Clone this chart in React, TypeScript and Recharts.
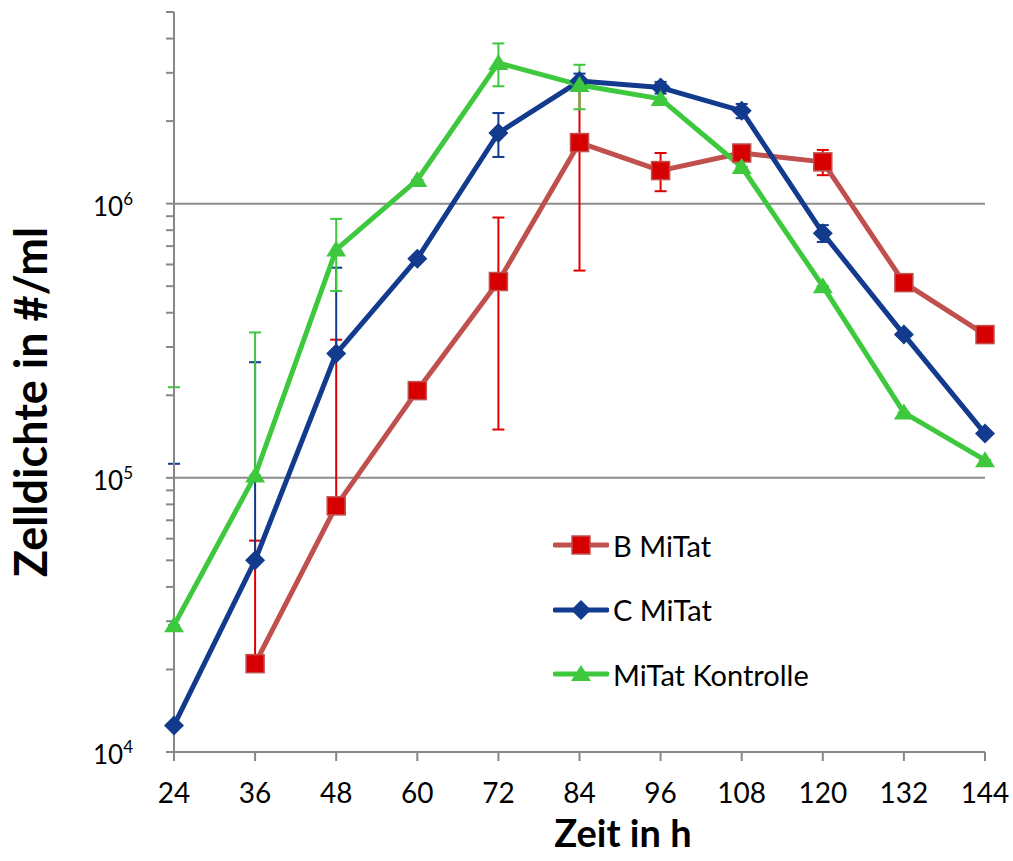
import { LineChart, Line, XAxis, YAxis, ErrorBar, CartesianGrid, Legend } from "recharts"

// sampling times (h)
const hours = [24, 36, 48, 60, 72, 84, 96, 108, 120, 132, 144]

// cell density (#/ml) and standard deviation
const bMitat = [null, 2.1e4, 7.9e4, 2.08e5, 5.2e5, 1.67e6, 1.32e6, 1.53e6, 1.42e6, 5.15e5, 3.33e5]
const bMitatSd = [null, 3.8e4, 2.4e5, 0, 3.7e5, 1.1e6, 2.1e5, 5e4, 1.5e5, 0, 0]

const cMitat = [1.25e4, 5.0e4, 2.84e5, 6.3e5, 1.81e6, 2.8e6, 2.65e6, 2.18e6, 7.8e5, 3.33e5, 1.45e5]
const cMitatSd = [1.0e5, 2.14e5, 3.0e5, 0, 3.3e5, 1.8e5, 1.3e5, 1.3e5, 5.5e4, 0, 0]

const kontrolle = [2.9e4, 1.02e5, 6.8e5, 1.22e6, 3.26e6, 2.71e6, 2.41e6, 1.36e6, 5.0e5, 1.73e5, 1.16e5]
const kontrolleSd = [1.85e5, 2.37e5, 2.0e5, 0, 5.8e5, 5.0e5, 0, 0, 0, 0, 0]

const seriesNames = ["B MiTat", "C MiTat", "MiTat Kontrolle"]

const yTicks = [
  1e4, 2e4, 3e4, 4e4, 5e4, 6e4, 7e4, 8e4, 9e4,
  1e5, 2e5, 3e5, 4e5, 5e5, 6e5, 7e5, 8e5, 9e5,
  1e6, 2e6, 3e6, 4e6, 5e6,
]
const majorTicks = [1e4, 1e5, 1e6]
const gridValues = [1e5, 1e6]

const FONT = "Lato, Carlito, Calibri, sans-serif"
const AXIS = "#878787"
const RED_LINE = "#C0504D"
const RED_FILL = "#D60000"
const RED_ERR = "#E00000"
const BLUE = "#123A8D"
const GREEN = "#3EC83E"

// Excel leaves out the lower whisker when value - sd would be negative
function errPair(v: number | null, sd: number | null) {
  if (v == null || sd == null) return undefined
  return [sd < v ? sd : 0, sd]
}

const rows = hours.map((h, i) => ({
  hour: h,
  b: bMitat[i],
  bErr: errPair(bMitat[i], bMitatSd[i]),
  c: cMitat[i],
  cErr: errPair(cMitat[i], cMitatSd[i]),
  k: kontrolle[i],
  kErr: errPair(kontrolle[i], kontrolleSd[i]),
}))

function square(cx: number, cy: number, key?: string) {
  return <rect key={key} x={cx - 9} y={cy - 9} width={18} height={18} fill={RED_FILL} stroke={RED_LINE} strokeWidth={1.5} />
}
function diamond(cx: number, cy: number, key?: string) {
  return <polygon key={key} points={`${cx},${cy - 10} ${cx + 10},${cy} ${cx},${cy + 10} ${cx - 10},${cy}`} fill={BLUE} />
}
function triangle(cx: number, cy: number, key?: string) {
  return <polygon key={key} points={`${cx},${cy - 9} ${cx + 10},${cy + 7} ${cx - 10},${cy + 7}`} fill={GREEN} />
}

function makeDot(shape: (cx: number, cy: number, key?: string) => any, tag: string) {
  return (p: any) => {
    const key = `${tag}-${p.index}`
    if (p.cx == null || p.cy == null || p.value == null) return <g key={key} />
    return shape(p.cx, p.cy, key)
  }
}

function YTick(props: any) {
  const { x, y, payload } = props
  if (!majorTicks.includes(payload.value)) return <g />
  const exp = Math.round(Math.log10(payload.value))
  return (
    <text x={x} y={y + 12} textAnchor="end" fontFamily={FONT} fontSize={26} fill="#000">
      10
      <tspan fontSize={17} dy={-11}>
        {exp}
      </tspan>
    </text>
  )
}

function XTitle() {
  return (
    <text x={623} y={847} textAnchor="middle" fontFamily={FONT} fontWeight="bold" fontSize={38} fill="#000">
      Zeit in h
    </text>
  )
}

function YTitle() {
  return (
    <text transform="translate(47,402) rotate(-90)" textAnchor="middle" fontFamily={FONT} fontWeight="bold" fontSize={45} fill="#000">
      Zelldichte in #/ml
    </text>
  )
}

const swatches = [
  { color: RED_LINE, marker: square },
  { color: BLUE, marker: diamond },
  { color: GREEN, marker: triangle },
]

function LegendBox() {
  return (
    <div style={{ fontFamily: FONT, fontSize: 29, color: "#000" }}>
      {seriesNames.map((name, i) => (
        <div key={name} style={{ display: "flex", alignItems: "center", height: 64.5 }}>
          <svg width={56} height={24} style={{ display: "block" }}>
            <line x1={2} y1={12} x2={54} y2={12} stroke={swatches[i].color} strokeWidth={5} strokeLinecap="round" />
            {swatches[i].marker(28, 12)}
          </svg>
          <span style={{ marginLeft: 4 }}>{name}</span>
        </div>
      ))}
    </div>
  )
}

export default function App() {
  return (
    <div style={{ position: "absolute", left: 0, top: 0 }}>
      <LineChart width={1013} height={861} data={rows} margin={{ top: 12, right: 28, bottom: 0, left: 0 }}>
        <CartesianGrid vertical={false} horizontalValues={gridValues} stroke="#8c8c8c" strokeWidth={2} />
        <XAxis
          dataKey="hour"
          type="number"
          domain={[24, 144]}
          ticks={hours}
          interval={0}
          height={109}
          tickSize={9}
          tickMargin={22}
          axisLine={{ stroke: AXIS, strokeWidth: 2 }}
          tickLine={{ stroke: AXIS, strokeWidth: 2 }}
          tick={{ fontFamily: FONT, fontSize: 28, fill: "#000" }}
          label={<XTitle />}
        />
        <YAxis
          type="number"
          scale="log"
          domain={[1e4, 5e6]}
          ticks={yTicks}
          interval={0}
          width={174}
          tickSize={8}
          tickMargin={33}
          axisLine={{ stroke: AXIS, strokeWidth: 2 }}
          tickLine={{ stroke: AXIS, strokeWidth: 2 }}
          tick={<YTick />}
          label={<YTitle />}
        />
        <Line
          dataKey="b"
          stroke={RED_LINE}
          strokeWidth={5}
          strokeLinejoin="round"
          dot={makeDot(square, "b")}
          activeDot={false}
          isAnimationActive={false}
        >
          <ErrorBar dataKey="bErr" direction="y" width={6} stroke={RED_ERR} strokeWidth={2} isAnimationActive={false} />
        </Line>
        <Line
          dataKey="c"
          stroke={BLUE}
          strokeWidth={5}
          strokeLinejoin="round"
          dot={makeDot(diamond, "c")}
          activeDot={false}
          isAnimationActive={false}
        >
          <ErrorBar dataKey="cErr" direction="y" width={6} stroke={BLUE} strokeWidth={2} isAnimationActive={false} />
        </Line>
        <Line
          dataKey="k"
          stroke={GREEN}
          strokeWidth={5}
          strokeLinejoin="round"
          dot={makeDot(triangle, "k")}
          activeDot={false}
          isAnimationActive={false}
        >
          <ErrorBar dataKey="kErr" direction="y" width={6} stroke={GREEN} strokeWidth={2} isAnimationActive={false} />
        </Line>
        <Legend
          layout="vertical"
          align="center"
          verticalAlign="middle"
          content={<LegendBox />}
          wrapperStyle={{ left: 553, top: 513, width: 340, height: 200 }}
        />
      </LineChart>
    </div>
  )
}
